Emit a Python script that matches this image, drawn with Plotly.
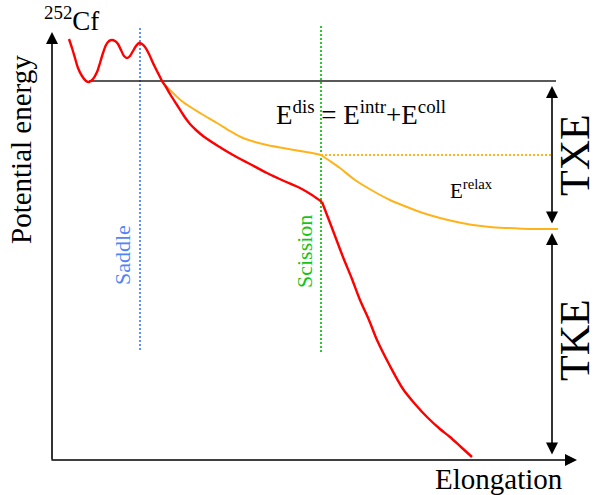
import plotly.graph_objects as go

# Schematic potential-energy curve of 252Cf (x: elongation, y: drawing depth, top = high energy)
# red: before scission (pre) and after scission (post)
red_pre_x = [69, 72, 75, 78, 82, 86, 89, 93, 97, 100, 103, 106, 109, 112, 115, 118, 121, 124, 127,
             130, 133, 136, 139, 142, 145, 149, 153, 158, 162, 166, 170, 177, 184, 190, 196, 203,
             218, 233, 250, 267, 284, 300, 312, 322]
red_pre_y = [39, 48, 58, 68, 76, 81, 82, 79, 72, 63, 53, 45, 41, 40, 41, 44, 50, 56, 58,
             56, 51, 46, 43, 44, 47, 54, 63, 73, 81, 87, 94, 105, 116, 124, 130, 136,
             146, 155, 164, 173, 181, 188, 195, 202]
red_post_x = [322, 332, 343, 352, 360, 369, 377, 390, 403, 415, 427, 440, 450, 461, 472]
red_post_y = [202, 228, 257, 279, 300, 320, 340, 366, 389, 404, 417, 429, 437, 447, 457]

yel_pre_x = [162, 172, 183, 200, 217, 230, 243, 255, 267, 283, 300, 312, 321]
yel_pre_y = [82, 92, 102, 113, 123, 131, 138, 142, 145, 148, 151, 153, 155]
yel_post_x = [321, 330, 340, 355, 373, 390, 407, 423, 440, 457, 473, 490, 507, 530, 558]
yel_post_y = [155, 161, 168, 180, 191, 200, 207, 213, 218, 222, 225, 227, 228, 229, 229]

ground_x = [89, 556]          # black reference level (ground state)
ground_y = [81, 81]
edis_x = [321, 552]           # dotted level at scission
edis_y = [155, 155]
saddle_x = [140, 140]
saddle_y = [28, 352]
scission_x = [321, 321]
scission_y = [26, 352]

RED = "#ff0000"
YEL = "#ffb31a"
BLUE = "#4f86f7"
GREEN = "#16c416"
SERIF = "Liberation Serif, Times New Roman, serif"

fig = go.Figure()


def line(x, y, color, width, dash=None, shape="linear"):
    fig.add_trace(go.Scatter(x=x, y=y, mode="lines", hoverinfo="skip", showlegend=False,
                             line=dict(color=color, width=width, dash=dash, shape=shape,
                                       smoothing=0.8 if shape == "spline" else None)))


line(saddle_x, saddle_y, BLUE, 1.8, "2px,2px")
line(scission_x, scission_y, GREEN, 1.8, "2px,2px")
line(ground_x, ground_y, "#222222", 1.6)
line(edis_x, edis_y, YEL, 1.8, "2px,2px")
line(yel_pre_x, yel_pre_y, YEL, 2.0, shape="spline")
line(yel_post_x, yel_post_y, YEL, 2.0, shape="spline")
line(red_pre_x, red_pre_y, RED, 2.4, shape="spline")
line(red_post_x, red_post_y, RED, 2.4, shape="spline")

# axes with arrows and energy-difference arrows
arrows = [
    dict(x=52, y=32, ax=52, ay=461, side="end"),      # y axis
    dict(x=577, y=460, ax=50, ay=460, side="end"),    # x axis
    dict(x=552, y=86, ax=552, ay=225, side="end+start"),   # TXE
    dict(x=552, y=233, ax=552, ay=456, side="end+start"),  # TKE
]
for a in arrows:
    fig.add_annotation(x=a["x"], y=a["y"], ax=a["ax"], ay=a["ay"], xref="x", yref="y",
                       axref="x", ayref="y", text="", showarrow=True, arrowhead=2,
                       startarrowhead=2, arrowside=a["side"], arrowsize=1.5,
                       startarrowsize=1.5, arrowwidth=1.6, arrowcolor="black")

texts = [
    dict(t="Potential energy", x=21, y=150, s=29, c="black", a=-90),
    dict(t="Elongation", x=499, y=479, s=29, c="black", a=0),
    dict(t="TXE", x=575, y=155, s=42, c="black", a=-90),
    dict(t="TKE", x=575, y=340, s=42, c="black", a=-90),
    dict(t="Saddle", x=122, y=255, s=22, c=BLUE, a=-90),
    dict(t="Scission", x=304, y=252, s=22, c=GREEN, a=-90),
    dict(t="E<sup>dis</sup> = E<sup>intr</sup>+E<sup>coll</sup>", x=361, y=113, s=27, c="black", a=0),
    dict(t="E<sup>relax</sup>", x=471, y=189, s=21, c="black", a=0),
    dict(t="<sup>252</sup>Cf", x=71, y=19, s=27, c="black", a=0),
]
for d in texts:
    fig.add_annotation(x=d["x"], y=d["y"], xref="x", yref="y", text=d["t"], showarrow=False,
                       textangle=d["a"], xanchor="center", yanchor="middle", borderpad=0,
                       font=dict(family=SERIF, size=d["s"], color=d["c"]))

fig.update_layout(
    width=599, height=495, margin=dict(l=0, r=0, t=0, b=0),
    paper_bgcolor="white", plot_bgcolor="white",
    xaxis=dict(range=[0, 599], visible=False, fixedrange=True),
    yaxis=dict(range=[495, 0], visible=False, fixedrange=True),
)

fig.write_html("out.html")
